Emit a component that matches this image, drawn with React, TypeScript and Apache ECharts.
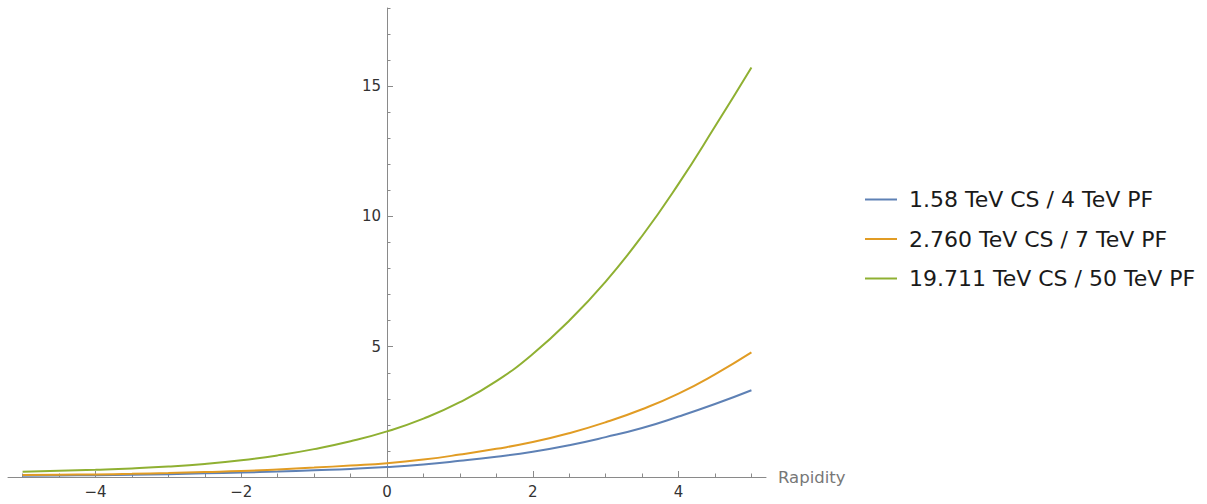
import React, { useEffect, useRef } from "react";
import * as echarts from "echarts";

const rapidity = [-5, -4.5, -4, -3.5, -3, -2.5, -2, -1.5, -1, -0.5, 0, 0.5, 1, 1.5, 2, 2.5, 3, 3.5, 4, 4.5, 5];
const series4TeV = [0.05, 0.06, 0.07, 0.09, 0.11, 0.14, 0.17, 0.21, 0.26, 0.31, 0.38, 0.48, 0.62, 0.78, 0.97, 1.22, 1.53, 1.88, 2.32, 2.8, 3.33];
const series7TeV = [0.08, 0.09, 0.1, 0.12, 0.15, 0.19, 0.23, 0.29, 0.36, 0.44, 0.53, 0.67, 0.86, 1.08, 1.34, 1.68, 2.1, 2.6, 3.2, 3.94, 4.78];
const series50TeV = [0.2, 0.24, 0.28, 0.33, 0.4, 0.5, 0.64, 0.83, 1.07, 1.37, 1.75, 2.24, 2.87, 3.68, 4.72, 6.0, 7.5, 9.25, 11.25, 13.45, 15.72];
const seriesNames = ["1.58 TeV CS / 4 TeV PF", "2.760 TeV CS / 7 TeV PF", "19.711 TeV CS / 50 TeV PF"];
const seriesColors = ["#5E81B5", "#E19C24", "#8FB032"];
const xMajorTicks = [-4, -2, 0, 2, 4];
const xMinorTicks = [-5, -4.5, -4, -3.5, -3, -2.5, -2, -1.5, -1, -0.5, 0, 0.5, 1, 1.5, 2, 2.5, 3, 3.5, 4, 4.5, 5];
const yMajorTicks = [5, 10, 15];
const yMinorTicks = [1, 2, 3, 4, 5, 6, 7, 8, 9, 10, 11, 12, 13, 14, 15, 16, 17, 18];

const FONT = "DejaVu Sans";
const AXIS_COLOR = "#8a8a8a";

const fmt = (v: number) => (v < 0 ? "\u2212" + String(-v) : String(v));

export default function App() {
  const ref = useRef<HTMLDivElement>(null);
  useEffect(() => {
    document.body.style.margin = "0";
    if (!ref.current) return;
    const chart = echarts.init(ref.current, null, { renderer: "svg" });
    const all = [series4TeV, series7TeV, series50TeV];
    chart.setOption({
      animation: false,
      textStyle: { fontFamily: FONT },
      grid: { left: 8, right: 441, top: 8, bottom: 27, containLabel: false, outerBoundsMode: "none" },
      legend: {
        orient: "vertical",
        left: 860,
        top: 182,
        icon: "rect",
        itemWidth: 32,
        itemHeight: 2,
        itemGap: 14.5,
        textStyle: { fontFamily: FONT, fontSize: 22, color: "#1a1a1a", lineHeight: 25, padding: [0, 0, 0, 7] },
        data: seriesNames,
      },
      xAxis: [
        {
          type: "value",
          min: -5.2,
          max: 5.2,
          position: "bottom",
          axisLine: { show: true, onZero: false, lineStyle: { color: AXIS_COLOR, width: 1 } },
          axisTick: { show: true, inside: true, length: 6, customValues: xMajorTicks, lineStyle: { color: AXIS_COLOR } },
          axisLabel: { show: true, customValues: xMajorTicks, formatter: fmt, color: "#333", fontSize: 15, margin: 7, fontFamily: FONT },
          splitLine: { show: false },
          name: "Rapidity",
          nameLocation: "end",
          nameGap: 12,
          nameTextStyle: { color: "#777", fontSize: 16.5, fontFamily: FONT, verticalAlign: "middle" },
        },
        {
          type: "value",
          min: -5.2,
          max: 5.2,
          position: "bottom",
          axisLine: { show: false, onZero: false },
          axisTick: { show: true, inside: true, length: 3.5, customValues: xMinorTicks, lineStyle: { color: AXIS_COLOR } },
          axisLabel: { show: false },
          splitLine: { show: false },
        },
      ],
      yAxis: [
        {
          type: "value",
          min: 0,
          max: 18,
          position: "left",
          offset: -379,
          axisLine: { show: true, onZero: false, lineStyle: { color: AXIS_COLOR, width: 1 } },
          axisTick: { show: true, inside: true, length: 6, customValues: yMajorTicks, lineStyle: { color: AXIS_COLOR } },
          axisLabel: { show: true, customValues: yMajorTicks, formatter: fmt, color: "#333", fontSize: 15, margin: 6, fontFamily: FONT },
          splitLine: { show: false },
        },
        {
          type: "value",
          min: 0,
          max: 18,
          position: "left",
          offset: -379,
          axisLine: { show: false, onZero: false },
          axisTick: { show: true, inside: true, length: 3.5, customValues: yMinorTicks, lineStyle: { color: AXIS_COLOR } },
          axisLabel: { show: false },
          splitLine: { show: false },
        },
      ],
      series: all.map((vals, i) => ({
        name: seriesNames[i],
        type: "line",
        xAxisIndex: 0,
        yAxisIndex: 0,
        smooth: 0.5,
        showSymbol: false,
        symbol: "none",
        color: seriesColors[i],
        lineStyle: { color: seriesColors[i], width: 2 },
        data: rapidity.map((x, j) => [x, vals[j]]),
      })),
    });
    return () => chart.dispose();
  }, []);
  return <div ref={ref} style={{ width: 1207, height: 504 }} />;
}
